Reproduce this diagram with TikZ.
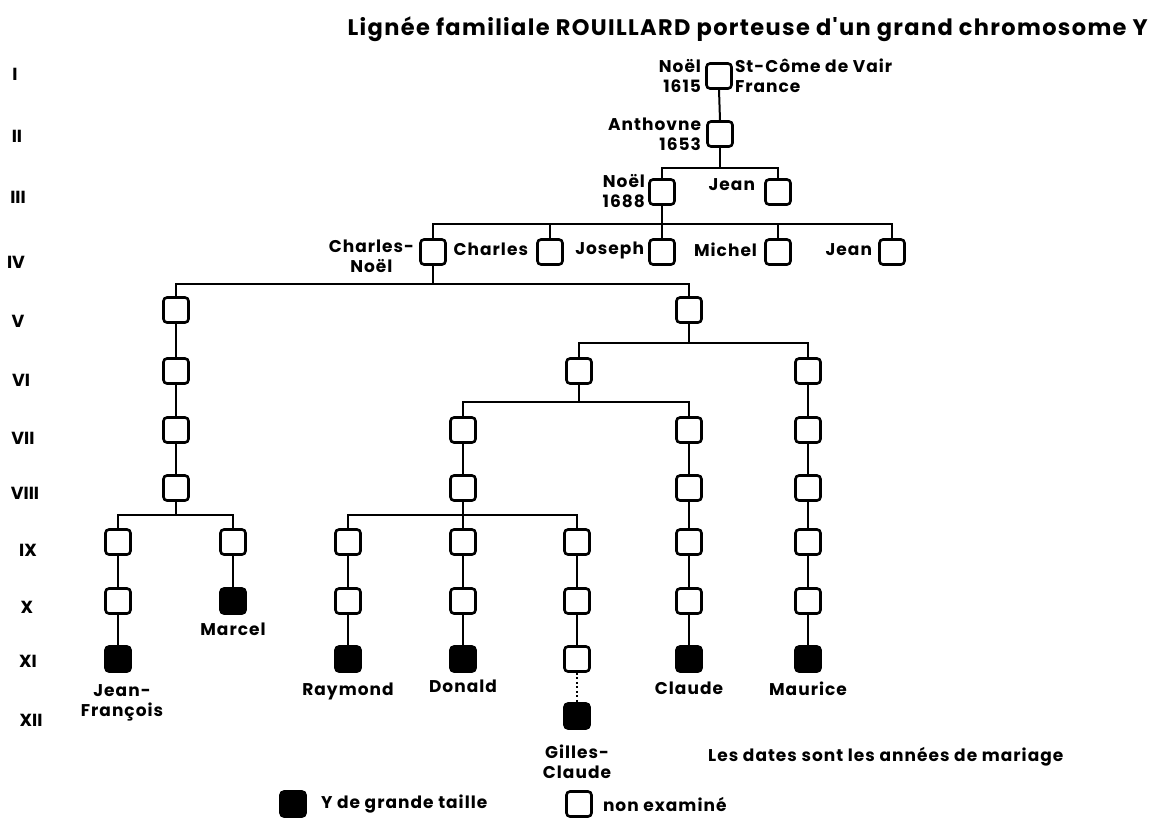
\documentclass[tikz,border=0pt]{standalone}
\usepackage{fontspec}
\setmainfont{Poppins}
\newfontfamily\lsfont{Poppins}[LetterSpace=6]
\newcommand{\labfont}{\lsfont\fontsize{17}{20}\selectfont\bfseries}
\newcommand{\genfont}{\fontsize{17.5}{19}\selectfont\bfseries}
\newcommand{\ttlfont}{\lsfont\fontsize{22.5}{26}\selectfont\bfseries}
\begin{document}
\begin{tikzpicture}[x=1pt,y=-1pt,
  pbox/.style={draw,line width=2.6pt,rounded corners=3.5pt,minimum size=25pt,inner sep=0pt,fill=white},
  ybox/.style={pbox,fill=black},
  link/.style={line width=2pt},
  lab/.style={font=\labfont,inner sep=0pt},
  gen/.style={font=\genfont,inner sep=0pt}]
\useasboundingbox (0,0) rectangle (1156,820);

% title
\node[font=\ttlfont,anchor=base east,inner sep=0pt] (title) at (1148,35) {Lignée familiale ROUILLARD porteuse d'un grand chromosome Y};

% generation numbers
\node[gen] (g1) at (15,74) {I};
\node[gen] (g2) at (17,136) {II};
\node[gen] (g3) at (18,197) {III};
\node[gen] (g4) at (16,262) {IV};
\node[gen] (g5) at (18,321) {V};
\node[gen] (g6) at (21,380) {VI};
\node[gen] (g7) at (23,438) {VII};
\node[gen] (g8) at (25,493) {VIII};
\node[gen] (g9) at (28,550) {IX};
\node[gen] (g10) at (27,607) {X};
\node[gen] (g11) at (28,661) {XI};
\node[gen] (g12) at (31,720) {XII};

% boxes
\node[pbox] (n1) at (719,76) {};
\node[pbox] (n2) at (720,134) {};
\node[pbox] (n3a) at (662,192) {};
\node[pbox] (n3b) at (778,192) {};
\node[pbox] (n4a) at (433,252) {};
\node[pbox] (n4b) at (550,252) {};
\node[pbox] (n4c) at (662,252) {};
\node[pbox] (n4d) at (778,252) {};
\node[pbox] (n4e) at (892,252) {};
\node[pbox] (n5a) at (176,310) {};
\node[pbox] (n5b) at (689,310) {};
\node[pbox] (n6a) at (176,371) {};
\node[pbox] (n6b) at (579,371) {};
\node[pbox] (n6c) at (808,371) {};
\node[pbox] (n7a) at (176,430) {};
\node[pbox] (n7b) at (463,430) {};
\node[pbox] (n7c) at (689,430) {};
\node[pbox] (n7d) at (808,430) {};
\node[pbox] (n8a) at (176,488) {};
\node[pbox] (n8b) at (463,488) {};
\node[pbox] (n8c) at (689,488) {};
\node[pbox] (n8d) at (808,488) {};
\foreach \c/\x in {A/118,C/233,D/348,E/463,F/577,G/689,H/808}{
  \node[pbox] (n9\c) at (\x,542) {};
}
\foreach \c/\x in {A/118,D/348,E/463,F/577,G/689,H/808}{
  \node[pbox] (n10\c) at (\x,601) {};
}
\node[ybox] (n10C) at (233,601) {};
\node[ybox] (n11A) at (118,659) {};
\node[ybox] (n11D) at (348,659) {};
\node[ybox] (n11E) at (463,659) {};
\node[pbox] (n11F) at (577,659) {};
\node[ybox] (n11G) at (689,659) {};
\node[ybox] (n11H) at (808,659) {};
\node[ybox] (n12F) at (577,716) {};

% junctions
\coordinate (j2) at (720,168);
\coordinate (j3) at (662,224);
\coordinate (j4) at (433,284);
\coordinate (j5) at (689,343);
\coordinate (j6) at (579,402);
\coordinate (j8a) at (176,515);
\coordinate (j8b) at (463,515);

% connectors
\draw[link] (n1.south) -- (n2.north);
\draw[link] (n2.south) -- (j2);
\draw[link] (n3a.north) |- (j2) -| (n3b.north);
\draw[link] (n3a.south) -- (n4c.north);
\draw[link] (n4a.north) |- (j3) -| (n4e.north);
\draw[link] (n4b.north) -- (n4b.north |- j3);
\draw[link] (n4d.north) -- (n4d.north |- j3);
\draw[link] (n4a.south) -- (j4);
\draw[link] (n5a.north) |- (j4) -| (n5b.north);
\draw[link] (n5b.south) -- (j5);
\draw[link] (n6b.north) |- (j5) -| (n6c.north);
\draw[link] (n6b.south) -- (j6);
\draw[link] (n7b.north) |- (j6) -| (n7c.north);
\draw[link] (n5a.south) -- (n6a.north);
\draw[link] (n6a.south) -- (n7a.north);
\draw[link] (n7a.south) -- (n8a.north);
\draw[link] (n7b.south) -- (n8b.north);
\draw[link] (n7c.south) -- (n8c.north);
\draw[link] (n6c.south) -- (n7d.north);
\draw[link] (n7d.south) -- (n8d.north);
\draw[link] (n8a.south) -- (j8a);
\draw[link] (n9A.north) |- (j8a) -| (n9C.north);
\draw[link] (n8b.south) -- (n9E.north);
\draw[link] (n9D.north) |- (j8b) -| (n9F.north);
\draw[link] (n8c.south) -- (n9G.north);
\draw[link] (n8d.south) -- (n9H.north);
\foreach \c in {A,C,D,E,F,G,H}{
  \draw[link] (n9\c.south) -- (n10\c.north);
}
\foreach \c in {A,D,E,F,G,H}{
  \draw[link] (n10\c.south) -- (n11\c.north);
}
\draw[link,dash pattern=on 2pt off 2.5pt] (n11F.south) -- (n12F.north);

% labels
\node[lab,anchor=east,align=right] (l1) at ([xshift=-4pt]n1.west) {Noël\\1615};
\node[lab,anchor=west,align=left] (l1b) at ([xshift=2pt]n1.east) {St-Côme de Vair\\France};
\node[lab,anchor=east,align=right] (l2) at ([xshift=-5pt]n2.west) {Anthovne\\1653};
\node[lab,anchor=east,align=right] (l3a) at ([xshift=-3pt,yshift=1pt]n3a.west) {Noël\\1688};
\node[lab,anchor=east] (l3b) at ([xshift=-9pt,yshift=7pt]n3b.west) {Jean};
\node[lab,anchor=east,align=center] (l4a) at ([xshift=-5pt,yshift=-4pt]n4a.west) {Charles-\\Noël};
\node[lab,anchor=east] (l4b) at ([xshift=-8pt,yshift=3pt]n4b.west) {Charles};
\node[lab,anchor=east] (l4c) at ([xshift=-4pt,yshift=2pt]n4c.west) {Joseph};
\node[lab,anchor=east] (l4d) at ([xshift=-7pt,yshift=2pt]n4d.west) {Michel};
\node[lab,anchor=east] (l4e) at ([xshift=-6pt,yshift=2pt]n4e.west) {Jean};
\node[lab,anchor=north,align=center] (l11A) at ([xshift=4pt,yshift=-12pt]n11A.south) {Jean-\\François};
\node[lab,anchor=north] (l10C) at ([yshift=-8pt]n10C.south) {Marcel};
\node[lab,anchor=north] (l11D) at ([yshift=-10pt]n11D.south) {Raymond};
\node[lab,anchor=north] (l11E) at ([yshift=-7pt]n11E.south) {Donald};
\node[lab,anchor=north] (l11G) at ([yshift=-9pt]n11G.south) {Claude};
\node[lab,anchor=north] (l11H) at ([yshift=-9pt]n11H.south) {Maurice};
\node[lab,anchor=north,align=center] (l12F) at ([yshift=-15pt]n12F.south) {Gilles-\\Claude};
\node[lab,anchor=west] (note) at (708,757) {Les dates sont les années de mariage};

% legend
\node[ybox] (k1) at (293,804) {};
\node[lab,anchor=west] (kt1) at ([xshift=14pt]k1.east) {Y de grande taille};
\node[pbox] (k2) at (579,804) {};
\node[lab,anchor=west] (kt2) at ([xshift=10pt]k2.east) {non examiné};
\end{tikzpicture}
\end{document}
